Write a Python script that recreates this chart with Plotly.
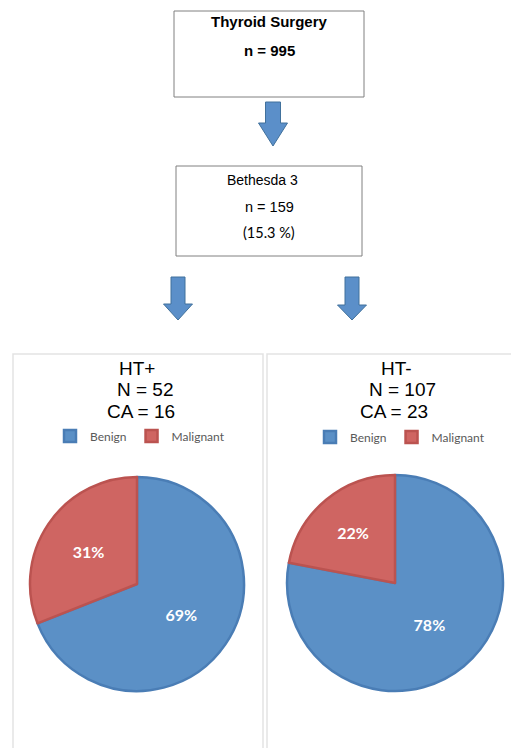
import plotly.graph_objects as go

W, H = 511, 748

# ---- data ----
total_surgery = 995
bethesda_n = 159
bethesda_pct = 15.3
groups = ["HT+", "HT-"]
group_n = [52, 107]
group_ca = [16, 23]
labels = ["Benign", "Malignant"]
benign_pct = [69, 78]
malignant_pct = [31, 22]

BLUE = "#5B90C6"
BLUE_EDGE = "#4A7DB5"
RED = "#CF6562"
RED_EDGE = "#BB5350"
ARROW_FILL = "#5B8FC9"
ARROW_EDGE = "#41719C"

fig = go.Figure()

def px_x(x):
    return x / W

def px_y(y):
    return 1 - y / H

# pie geometry (pixels): center x, center y, radius
pie_geo = [(137, 584, 107), (395, 583, 108)]
legend_pos = [(140, 436), (400, 437)]
legend_names = ["legend", "legend2"]

for i in range(2):
    cx, cy, r = pie_geo[i]
    # zero-width suffix keeps each pie's legend entries separate
    lab = [l + "\u200b" * i for l in labels]
    fig.add_trace(go.Pie(
        labels=lab,
        values=[benign_pct[i], malignant_pct[i]],
        sort=False,
        direction="clockwise",
        rotation=0,
        marker=dict(colors=[BLUE, RED], line=dict(color=[BLUE_EDGE, RED_EDGE], width=2.5)),
        texttemplate="%{value}%",
        textposition="inside",
        insidetextorientation="horizontal",
        textfont=dict(family="Lato", size=16, color="white", weight="bold"),
        hoverinfo="label+percent",
        domain=dict(x=[px_x(cx - r), px_x(cx + r)], y=[px_y(cy + r), px_y(cy - r)]),
        legend=legend_names[i],
        showlegend=True,
    ))

# hidden pixel axes for shapes/annotations
fig.update_xaxes(range=[0, W], visible=False, fixedrange=True)
fig.update_yaxes(range=[H, 0], visible=False, fixedrange=True)
fig.add_trace(go.Scatter(x=[0, W], y=[0, H], mode="markers", marker=dict(opacity=0),
                         showlegend=False, hoverinfo="skip"))

shapes = []
# flow boxes
shapes.append(dict(type="rect", x0=174, x1=364, y0=11, y1=97, xref="x", yref="y",
                   line=dict(color="#808080", width=1), fillcolor="white", layer="below"))
shapes.append(dict(type="rect", x0=176, x1=362, y0=166, y1=256, xref="x", yref="y",
                   line=dict(color="#808080", width=1), fillcolor="white", layer="below"))
# panels
shapes.append(dict(type="rect", x0=13, x1=263, y0=354, y1=760, xref="x", yref="y",
                   line=dict(color="#E3E3E3", width=1.5), fillcolor="rgba(0,0,0,0)", layer="below"))
shapes.append(dict(type="rect", x0=267, x1=520, y0=354, y1=760, xref="x", yref="y",
                   line=dict(color="#E3E3E3", width=1.5), fillcolor="rgba(0,0,0,0)", layer="below"))

def arrow(cx, top, neck, tip, sw, hw):
    p = (f"M {cx-sw},{top} L {cx+sw},{top} L {cx+sw},{neck} L {cx+hw},{neck} "
         f"L {cx},{tip} L {cx-hw},{neck} L {cx-sw},{neck} Z")
    return dict(type="path", path=p, xref="x", yref="y",
                fillcolor=ARROW_FILL, line=dict(color=ARROW_EDGE, width=1))

shapes.append(arrow(273, 102, 123, 146, 7.5, 14.5))
shapes.append(arrow(178, 277, 304, 320, 7, 14.5))
shapes.append(arrow(352, 277, 305, 320, 7, 14.5))
fig.update_layout(shapes=shapes)

ann = []
def txt(x, y, s, size=14, bold=False, family="Liberation Sans, Arial", color="black"):
    ann.append(dict(x=x, y=y, xref="x", yref="y", text=s, showarrow=False,
                    xanchor="center", yanchor="middle",
                    font=dict(family=family, size=size, color=color, weight="bold" if bold else "normal")))

txt(269, 21, "Thyroid Surgery", 15, True)
txt(269, 50, f"n = {total_surgery}", 15, True)
txt(262, 180, "Bethesda 3", 14)
txt(269, 207, f"n = {bethesda_n}", 14.5)
txt(269, 232, f"({bethesda_pct} %)", 14.5, family="Lato")

title_x = [(137, 145, 141), (396, 402, 394)]
for i in range(2):
    tx = title_x[i]
    txt(tx[0], 368, groups[i], 19)
    txt(tx[1], 389, f"N = {group_n[i]}", 19)
    txt(tx[2], 411, f"CA = {group_ca[i]}", 19)

fig.update_layout(annotations=ann)

legend_common = dict(orientation="h", xanchor="center", yanchor="middle",
                     font=dict(family="Lato", size=12, color="#595959"),
                     bgcolor="rgba(0,0,0,0)", itemwidth=30, tracegroupgap=0)
fig.update_layout(
    legend=dict(x=px_x(legend_pos[0][0]), y=px_y(legend_pos[0][1]), **legend_common),
    legend2=dict(x=px_x(legend_pos[1][0]), y=px_y(legend_pos[1][1]), **legend_common),
)

fig.update_layout(width=W, height=H, margin=dict(l=0, r=0, t=0, b=0),
                  paper_bgcolor="white", plot_bgcolor="white")

fig.write_html("out.html", config={"displayModeBar": False})
